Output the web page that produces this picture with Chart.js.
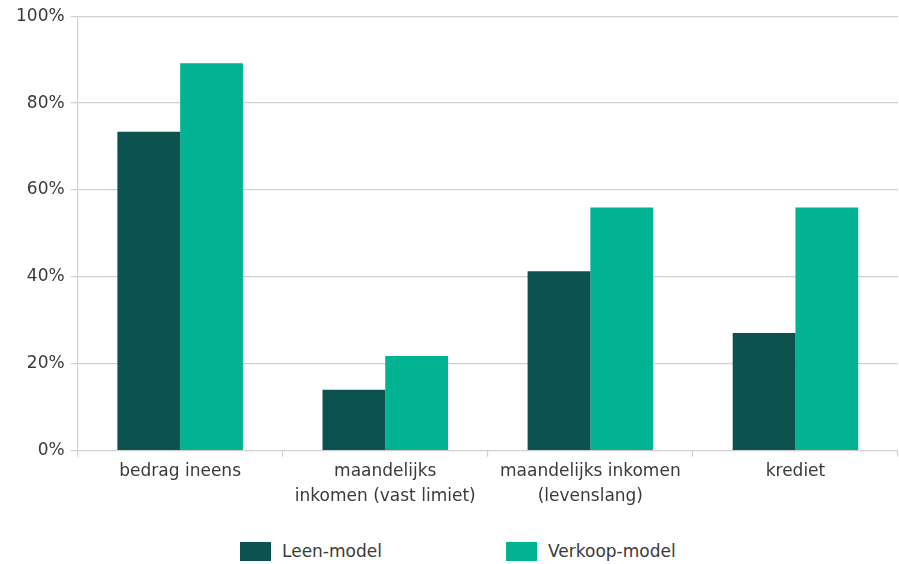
<!DOCTYPE html>
<html>
<head>
<meta charset="utf-8">
<script src="https://cdn.jsdelivr.net/npm/chart.js@4.4.1/dist/chart.umd.min.js"></script>
<style>
  body { margin: 0; background: #fff; font-family: "DejaVu Sans", sans-serif; }
  #wrap { position: relative; width: 899px; height: 512px; }
  #legend { position: absolute; top: 541px; left: 240px; display: flex; }
  .item { display: flex; align-items: center; font-size: 17px; color: #3a3a3a; width: 266px; }
  .box { width: 31px; height: 19px; margin-right: 11px; }
</style>
</head>
<body>
<div id="wrap"><canvas id="myChart"></canvas></div>
<div id="legend"></div>
<script>
var labels = ['bedrag ineens', ['maandelijks', 'inkomen (vast limiet)'], ['maandelijks inkomen', '(levenslang)'], 'krediet'];
var leenModel = [73.4, 14.0, 41.3, 27.1];
var verkoopModel = [89.2, 21.8, 56.0, 56.0];
var yTicks = [0, 20, 40, 60, 80, 100];

var data = [
  { label: 'Leen-model', data: leenModel, backgroundColor: '#0c534f' },
  { label: 'Verkoop-model', data: verkoopModel, backgroundColor: '#01b393' }
];

var ctx = document.getElementById('myChart');
var StockChart = new Chart(ctx, {
  type: 'bar',
  data: {
    labels: labels,
    datasets: data,
  },
  options: {
    responsive: true,
    maintainAspectRatio: false,
    animation: false,
    layout: { padding: { top: 6, right: 1, left: 10, bottom: 0 } },
    plugins: {
      legend: { display: false },
      tooltip: { enabled: false }
    },
    datasets: {
      bar: { categoryPercentage: 0.612, barPercentage: 1 }
    },
    scales: {
      x: {
        grid: { drawOnChartArea: false, drawTicks: true, tickLength: 6, color: '#cfcfcf', lineWidth: 1.2 },
        border: { display: false },
        ticks: { color: '#3a3a3a', font: { family: 'DejaVu Sans', size: 17, lineHeight: 1.45 }, padding: 3, maxRotation: 0, autoSkip: false }
      },
      y: {
        min: 0,
        max: 100,
        afterBuildTicks: function(axis) {
          axis.ticks = yTicks.map(function(v) { return { value: v }; });
        },
        grid: { color: '#cfcfcf', lineWidth: 1.2, tickLength: 7 },
        border: { color: '#cfcfcf', width: 1.2 },
        ticks: {
          color: '#3a3a3a',
          font: { family: 'DejaVu Sans', size: 17 },
          padding: 6,
          callback: function(v) { return v + '%'; }
        }
      }
    }
  }
});

// legend drawn next to the canvas
var legend = document.getElementById('legend');
StockChart.data.datasets.forEach(function(ds) {
  var item = document.createElement('div');
  item.className = 'item';
  var box = document.createElement('span');
  box.className = 'box';
  box.style.background = ds.backgroundColor;
  item.appendChild(box);
  item.appendChild(document.createTextNode(ds.label));
  legend.appendChild(item);
});
</script>
</body>
</html>
